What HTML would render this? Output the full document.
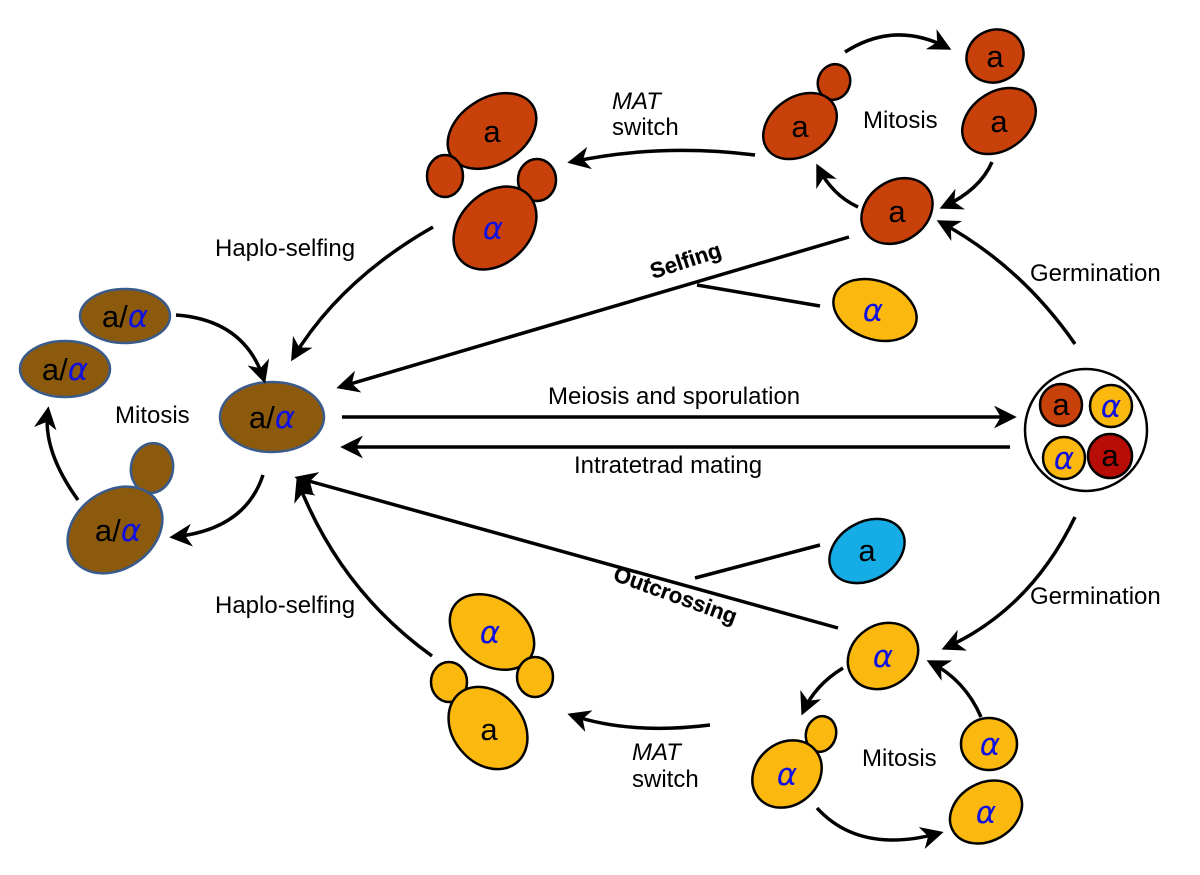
<!DOCTYPE html>
<html><head><meta charset="utf-8"><style>
html,body{margin:0;padding:0;background:#fff}
svg{display:block}
text{font-family:"Liberation Sans",Arial,sans-serif;fill:#000}
.t{font-size:24px}
.c{font-size:31px;text-anchor:middle}
.al{font-size:31px;text-anchor:middle;fill:#1010e0;font-style:italic;font-family:"DejaVu Sans","Liberation Sans",sans-serif}
.a2{fill:#1010e0;font-style:italic;font-family:"DejaVu Sans","Liberation Sans",sans-serif}
.r{fill:#c8400a;stroke:#000;stroke-width:2.5}
.y{fill:#fbb90f;stroke:#000;stroke-width:2.5}
.b{fill:#8b5a0c;stroke:#3a5a8a;stroke-width:2.5}
.ln{fill:none;stroke:#000;stroke-width:3.5}
.lab{font-size:22px;font-weight:bold;stroke:#000;stroke-width:0.2}
</style></head><body>
<svg width="1200" height="875" viewBox="0 0 1200 875" xmlns="http://www.w3.org/2000/svg">
<defs>
<marker id="ah" viewBox="0 0 12 12" refX="10" refY="6" markerWidth="6.5" markerHeight="6.5" orient="auto" markerUnits="strokeWidth">
<path d="M0,0 L12,6 L0,12 L3.5,6 z" fill="#000"/></marker>
</defs>

<!-- Top-right mitosis cluster -->
<ellipse class="r" cx="834" cy="82" rx="16" ry="18" transform="rotate(20 834 82)"/>
<ellipse class="r" cx="800" cy="126" rx="40" ry="29" transform="rotate(-35 800 126)"/>
<text class="c" x="800" y="137">a</text>
<ellipse class="r" cx="995" cy="56" rx="29" ry="26" transform="rotate(-25 995 56)"/>
<text class="c" x="995" y="67">a</text>
<ellipse class="r" cx="999" cy="121" rx="40" ry="29" transform="rotate(-35 999 121)"/>
<text class="c" x="999" y="132">a</text>
<ellipse class="r" cx="897" cy="211" rx="38" ry="30" transform="rotate(-35 897 211)"/>
<text class="c" x="897" y="222">a</text>
<text class="t" x="863" y="128">Mitosis</text>
<path class="ln" d="M845,52 Q895,20 948,48" marker-end="url(#ah)"/>
<path class="ln" d="M992,162 Q980,190 943,207" marker-end="url(#ah)"/>
<path class="ln" d="M858,207 Q832,195 818,167" marker-end="url(#ah)"/>

<!-- top MAT switch pair -->
<ellipse class="r" cx="492" cy="131" rx="48" ry="33" transform="rotate(-32 492 131)"/>
<text class="c" x="492" y="142">a</text>
<ellipse class="r" cx="445" cy="176" rx="18" ry="21"/>
<ellipse class="r" cx="537" cy="180" rx="19" ry="21"/>
<ellipse class="r" cx="495" cy="228" rx="47" ry="35" transform="rotate(-45 495 228)"/>
<text class="al" x="493" y="239">α</text>
<text class="t" x="612" y="109" style="font-style:italic">MAT</text>
<text class="t" x="612" y="135">switch</text>
<path class="ln" d="M755,155 Q660,143 571,162" marker-end="url(#ah)"/>
<text class="t" x="215" y="256">Haplo-selfing</text>
<path class="ln" d="M433,227 Q340,280 293,358" marker-end="url(#ah)"/>

<!-- Selfing -->
<path class="ln" d="M849,237 L340,387" marker-end="url(#ah)"/>
<path class="ln" d="M697,285 L820,306"/>
<text class="lab" x="0" y="0" transform="translate(653,279) rotate(-18)">Selfing</text>
<ellipse class="y" cx="875" cy="310" rx="43" ry="29" transform="rotate(20 875 310)"/>
<text class="al" x="873" y="321">α</text>
<text class="t" x="1030" y="281">Germination</text>
<path class="ln" d="M1075,344 Q1020,265 940,222" marker-end="url(#ah)"/>

<!-- tetrad -->
<circle cx="1086" cy="430" r="61" fill="#fff" stroke="#000" stroke-width="2.5"/>
<circle class="r" cx="1061" cy="405" r="21"/>
<text class="c" x="1061" y="415">a</text>
<circle class="y" cx="1111" cy="406" r="21"/>
<text class="al" x="1111" y="417">α</text>
<circle class="y" cx="1064" cy="458" r="21"/>
<text class="al" x="1064" y="469">α</text>
<circle cx="1110" cy="456" r="22" fill="#b80c06" stroke="#000" stroke-width="2.5"/>
<text class="c" x="1110" y="466">a</text>

<!-- center -->
<path class="ln" d="M342,417 L1013,417" marker-end="url(#ah)"/>
<text class="t" x="548" y="404">Meiosis and sporulation</text>
<path class="ln" d="M1010,447 L344,447" marker-end="url(#ah)"/>
<text class="t" x="574" y="473">Intratetrad mating</text>
<ellipse class="b" cx="272" cy="417" rx="52" ry="35"/>
<text class="c" x="272" y="428">a/<tspan class="a2">α</tspan></text>

<!-- left mitosis -->
<ellipse class="b" cx="125" cy="316" rx="45" ry="27"/>
<text class="c" x="125" y="327">a/<tspan class="a2">α</tspan></text>
<ellipse class="b" cx="65" cy="369" rx="45" ry="28"/>
<text class="c" x="65" y="380">a/<tspan class="a2">α</tspan></text>
<ellipse class="b" cx="152" cy="468" rx="21" ry="25" transform="rotate(10 152 468)"/>
<ellipse class="b" cx="115" cy="530" rx="51" ry="39" transform="rotate(-35 115 530)"/>
<text class="c" x="118" y="541">a/<tspan class="a2">α</tspan></text>
<text class="t" x="115" y="423">Mitosis</text>
<path class="ln" d="M176,315 Q245,320 264,380" marker-end="url(#ah)"/>
<path class="ln" d="M263,475 Q245,530 173,537" marker-end="url(#ah)"/>
<path class="ln" d="M78,500 Q42,450 48,410" marker-end="url(#ah)"/>

<!-- bottom: outcrossing -->
<path class="ln" d="M838,628 L298,478" marker-end="url(#ah)"/>
<path class="ln" d="M695,578 L820,545"/>
<ellipse cx="867" cy="551" rx="40" ry="29" transform="rotate(-30 867 551)" fill="#16ace5" stroke="#000" stroke-width="2.5"/>
<text class="c" x="867" y="561">a</text>
<text class="lab" x="0" y="0" transform="translate(612,580) rotate(20)">Outcrossing</text>
<text class="t" x="1030" y="604">Germination</text>
<path class="ln" d="M1075,517 Q1030,610 945,648" marker-end="url(#ah)"/>
<ellipse class="y" cx="883" cy="656" rx="37" ry="31" transform="rotate(-35 883 656)"/>
<text class="al" x="883" y="667">α</text>

<!-- bottom right mitosis -->
<ellipse class="y" cx="821" cy="734" rx="15" ry="18" transform="rotate(15 821 734)"/>
<ellipse class="y" cx="787" cy="774" rx="37" ry="31" transform="rotate(-40 787 774)"/>
<text class="al" x="787" y="785">α</text>
<ellipse class="y" cx="989" cy="744" rx="28" ry="26"/>
<text class="al" x="990" y="755">α</text>
<ellipse class="y" cx="986" cy="812" rx="38" ry="29" transform="rotate(-30 986 812)"/>
<text class="al" x="986" y="823">α</text>
<text class="t" x="862" y="766">Mitosis</text>
<path class="ln" d="M981,717 Q965,680 930,662" marker-end="url(#ah)"/>
<path class="ln" d="M843,668 Q815,685 803,712" marker-end="url(#ah)"/>
<path class="ln" d="M817,808 Q860,855 940,833" marker-end="url(#ah)"/>

<!-- bottom MAT switch pair -->
<ellipse class="y" cx="492" cy="632" rx="46" ry="33" transform="rotate(35 492 632)"/>
<text class="al" x="490" y="643">α</text>
<ellipse class="y" cx="535" cy="677" rx="18" ry="20"/>
<ellipse class="y" cx="449" cy="682" rx="18" ry="20"/>
<ellipse class="y" cx="488" cy="728" rx="45" ry="35" transform="rotate(50 488 728)"/>
<text class="c" x="489" y="740">a</text>
<text class="t" x="632" y="760" style="font-style:italic">MAT</text>
<text class="t" x="632" y="787">switch</text>
<path class="ln" d="M710,725 Q630,735 571,715" marker-end="url(#ah)"/>
<text class="t" x="215" y="613">Haplo-selfing</text>
<path class="ln" d="M432,656 Q340,590 298,482" marker-end="url(#ah)"/>
</svg>
</body></html>
